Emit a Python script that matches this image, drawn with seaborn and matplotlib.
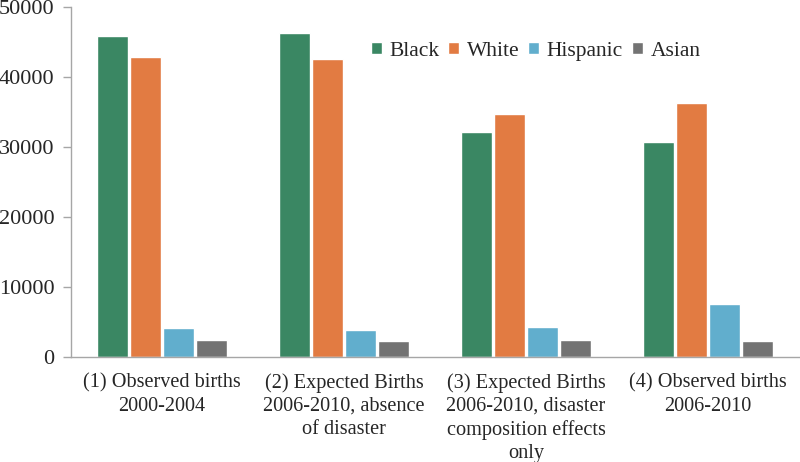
import matplotlib
matplotlib.use("Agg")
import matplotlib.pyplot as plt
import seaborn as sns
import pandas as pd
import numpy as np
from matplotlib.ticker import FixedLocator

categories = ["(1) Observed births\n2000-2004",
              "(2) Expected Births\n2006-2010, absence\nof disaster",
              "(3) Expected Births\n2006-2010, disaster\ncomposition effects\nonly",
              "(4) Observed births\n2006-2010"]
races = ["Black", "White", "Hispanic", "Asian"]
black = [45800, 46200, 32100, 30600]
white = [42800, 42600, 34700, 36200]
hispanic = [4100, 3800, 4300, 7500]
asian = [2400, 2200, 2400, 2300]
yticks = [0, 10000, 20000, 30000, 40000, 50000]
colors = ["#3A8763", "#E27B42", "#61AECD", "#737373"]

rows = []
for race, vals in zip(races, [black, white, hispanic, asian]):
    for c, v in zip(categories, vals):
        rows.append({"cat": c, "race": race, "value": v})
df = pd.DataFrame(rows)

sns.set_style("white")
plt.rcParams['font.family'] = ['Liberation Serif', 'DejaVu Serif']

fig = plt.figure(figsize=(8, 4.62), dpi=100)
ax = fig.add_axes([71/800, 1-356.7/462, 728/800, 350/462])
sns.barplot(data=df, x="cat", y="value", hue="race", hue_order=races,
            palette=colors, width=0.72, gap=0.06, ax=ax, legend=True,
            saturation=1)

ax.set_ylim(0, 50000)
ax.set_xlim(-0.5, 3.5)
ax.set_yticks(yticks)
ax.set_yticklabels([str(t) for t in yticks], fontsize=16)
ax.set_xlabel("")
ax.set_ylabel("")
for lbl in ax.get_xticklabels():
    lbl.set_fontsize(14.6)
    lbl.set_linespacing(1.28)
ax.tick_params(axis='x', which='major', length=0, pad=12)
ax.xaxis.set_minor_locator(FixedLocator([-0.5, 0.5, 1.5, 2.5, 3.5]))
ax.tick_params(axis='x', which='minor', length=6, color='#A6A6A6', width=1)
ax.tick_params(axis='y', length=6, color='#A6A6A6', width=1, left=True, pad=6)
for s in ["top", "right"]:
    ax.spines[s].set_visible(False)
for s in ["left", "bottom"]:
    ax.spines[s].set_color('#A6A6A6')
    ax.spines[s].set_linewidth(1)

leg = ax.legend(loc="upper left", bbox_to_anchor=(360/800, 1-31/462),
                bbox_transform=fig.transFigure, ncol=4, frameon=False,
                fontsize=15.5, handlelength=0.52, handleheight=0.52,
                handletextpad=0.35, columnspacing=0.4, borderpad=0)

fig.savefig("out.png", dpi=100)
